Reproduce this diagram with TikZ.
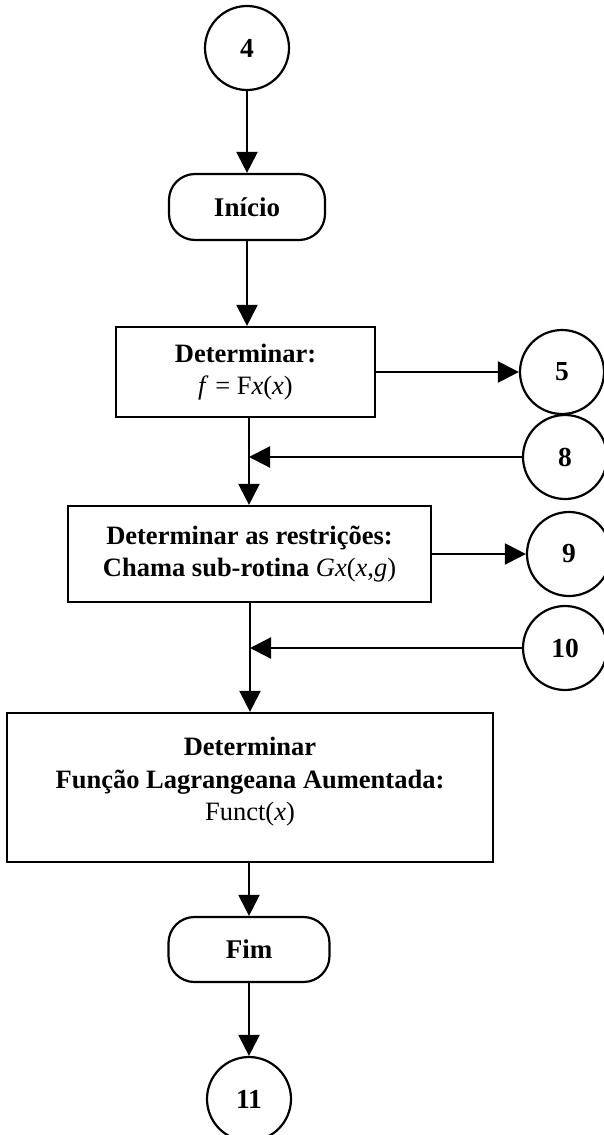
\documentclass[tikz,border=0pt]{standalone}
\usepackage{fontspec}
\setmainfont{Liberation Serif}
\usetikzlibrary{arrows.meta}

\tikzset{
  flow/.style={line width=2.2pt},
  arr/.style={flow, -{Triangle[length=21pt,width=21pt]}},
  conn/.style={circle, draw, line width=2.2pt, minimum size=84pt, inner sep=0pt,
    font=\fontsize{27.5}{30}\selectfont\bfseries},
  term/.style={rectangle, draw, line width=2.2pt, rounded corners=26pt, inner sep=0pt,
    font=\fontsize{27}{31}\selectfont\bfseries},
  stepbox/.style={rectangle, draw, line width=2.2pt, inner sep=0pt, align=center,
    font=\fontsize{26.5}{32.5}\selectfont}
}

\begin{document}
\begin{tikzpicture}[x=1pt, y=-1pt]
  \useasboundingbox (0,0) rectangle (603,1135);

  % main column
  \node[conn] (c4) at (247,48) {4};
  \node[term, minimum width=156pt, minimum height=66pt] (inicio) at (247,207) {Início};
  \node[stepbox, minimum width=259pt, minimum height=90pt] (box1) at (245.5,372)
    {\textbf{Determinar:}\\ \textit{f} = F\textit{x}(\textit{x})};
  \node[stepbox, minimum width=363pt, minimum height=96pt] (box2) at (249.5,554)
    {\textbf{Determinar as restrições:}\\ \textbf{Chama sub-rotina} \textit{Gx}(\textit{x},\textit{g})};
  \node[stepbox, minimum width=486pt, minimum height=149pt] (box3) at (250,787.5) {};
  \node[stepbox, draw=none, anchor=center] (box3text) at (250,782)
    {\textbf{Determinar}\\ \textbf{Função Lagrangeana Aumentada:}\\ Funct(\textit{x})};
  \node[term, minimum width=161pt, minimum height=65pt] (fim) at (249,949.5) {Fim};
  \node[conn] (c11) at (249,1099) {11};

  % off-page connectors on the right
  \node[conn] (c5) at (562,372) {5};
  \node[conn] (c8) at (565,457) {8};
  \node[conn] (c9) at (569,554) {9};
  \node[conn] (c10) at (565,648) {10};

  % junctions on the vertical flow line
  \coordinate (j1) at (249,457);
  \coordinate (j2) at (250,648);

  % vertical flow
  \draw[arr] (c4.south) -- (inicio.north);
  \draw[arr] (inicio.south) -- (inicio.south |- box1.north);
  \draw[flow] (j1 |- box1.south) -- (j1);
  \draw[arr] (j1) -- (j1 |- box2.north);
  \draw[flow] (j2 |- box2.south) -- (j2);
  \draw[arr] (j2) -- (j2 |- box3.north);
  \draw[arr] (fim.north |- box3.south) -- (fim.north);
  \draw[arr] (fim.south) -- (c11.north);

  % side connections
  \draw[arr] (box1.east) -- (c5.west);
  \draw[arr] (c8.west) -- (j1);
  \draw[arr] (box2.east) -- (c9.west);
  \draw[arr] (c10.west) -- (j2);
\end{tikzpicture}
\end{document}
